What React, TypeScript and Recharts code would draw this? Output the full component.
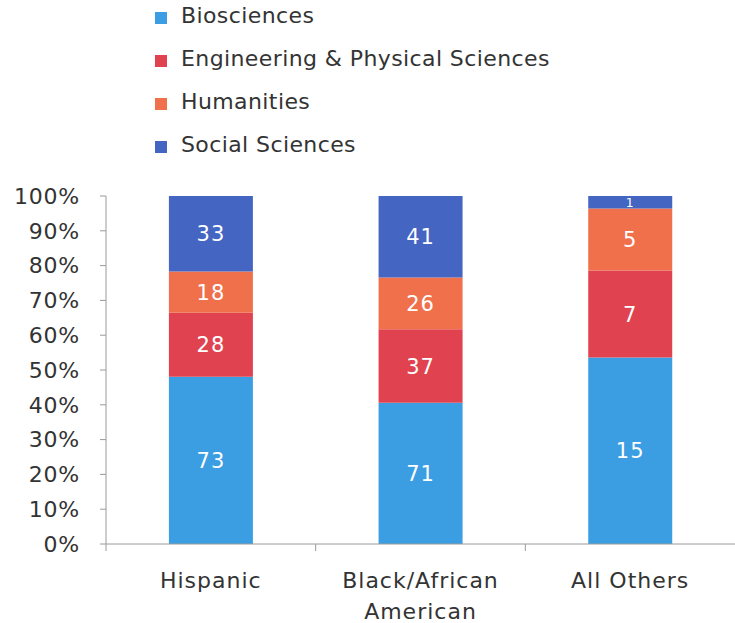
import React from "react";
import { Bar, BarChart, LabelList, Legend, XAxis, YAxis } from "recharts";

const categories = ["Hispanic", "Black/African\nAmerican", "All Others"];
const seriesNames = [
  "Biosciences",
  "Engineering & Physical Sciences",
  "Humanities",
  "Social Sciences",
];
const seriesKeys = ["bio", "eng", "hum", "soc"];
const seriesColors = ["#3b9de2", "#e0434f", "#f0704c", "#4465c2"];

const biosciences = [73, 71, 15];
const engineering = [28, 37, 7];
const humanities = [18, 26, 5];
const socialSciences = [33, 41, 1];

const yTicks = [0, 0.1, 0.2, 0.3, 0.4, 0.5, 0.6, 0.7, 0.8, 0.9, 1];

const data = categories.map((name, i) => ({
  name,
  bio: biosciences[i],
  eng: engineering[i],
  hum: humanities[i],
  soc: socialSciences[i],
}));

const W = 735;
const H = 623;
const Y_AXIS_W = 106;
const BAND = (W - Y_AXIS_W) / categories.length;
const FONT = "'DejaVu Sans', sans-serif";
const TEXT = "#333";
const AXIS = "#9a9a9a";

function CategoryTick(props: any) {
  const { x, y, payload } = props;
  const lines = String(payload.value).split("\n");
  return (
    <g>
      <line x1={x - BAND / 2} x2={x - BAND / 2} y1={y} y2={y + 7} stroke={AXIS} />
      {lines.map((l, i) => (
        <text
          key={i}
          x={x}
          y={y + 44 + i * 31}
          textAnchor="middle"
          fill={TEXT}
          fontSize={22}
          fontFamily={FONT}
          letterSpacing={1}
        >
          {l}
        </text>
      ))}
    </g>
  );
}

function SegmentLabel(props: any) {
  const { x, y, width, height, value } = props;
  const fs = height < 24 ? Math.max(8, height) : 21;
  return (
    <text
      x={x + width / 2}
      y={y + height / 2}
      dy="0.36em"
      textAnchor="middle"
      fill="#fff"
      fontSize={fs}
      fontFamily={FONT}
      letterSpacing={1}
    >
      {value}
    </text>
  );
}

function LegendBox() {
  return (
    <div style={{ fontFamily: FONT, fontSize: 22, color: TEXT, letterSpacing: 0.4 }}>
      {seriesNames.map((n, i) => (
        <div key={n} style={{ height: 43, display: "flex", alignItems: "center" }}>
          <span
            style={{
              display: "inline-block",
              width: 12,
              height: 12,
              marginTop: 4,
              background: seriesColors[i],
              marginRight: 14,
            }}
          />
          <span>{n}</span>
        </div>
      ))}
    </div>
  );
}

export default function App() {
  return (
    <div style={{ position: "absolute", left: 0, top: 0, width: W, height: H, background: "#fff" }}>
      <BarChart
        width={W}
        height={H}
        data={data}
        stackOffset="expand"
        barCategoryGap="30%"
        margin={{ top: 196, right: 0, left: 0, bottom: 0 }}
      >
        <XAxis
          dataKey="name"
          height={79}
          stroke={AXIS}
          tickLine={false}
          tickSize={0}
          tickMargin={0}
          tick={<CategoryTick />}
          interval={0}
        />
        <YAxis
          width={Y_AXIS_W}
          domain={[0, 1]}
          ticks={yTicks}
          stroke={AXIS}
          tickSize={6}
          tickMargin={20}
          tickFormatter={(v: number) => `${Math.round(v * 100)}%`}
          tick={{ fill: TEXT, fontSize: 22, fontFamily: FONT, letterSpacing: 0.8 }}
        />
        <Legend
          layout="vertical"
          align="center"
          verticalAlign="middle"
          wrapperStyle={{ top: -6, left: 155 }}
          content={<LegendBox />}
        />
        {seriesKeys.map((k, i) => (
          <Bar
            key={k}
            dataKey={k}
            name={seriesNames[i]}
            stackId="a"
            fill={seriesColors[i]}
            isAnimationActive={false}
          >
            <LabelList dataKey={k} content={<SegmentLabel />} />
          </Bar>
        ))}
      </BarChart>
    </div>
  );
}
